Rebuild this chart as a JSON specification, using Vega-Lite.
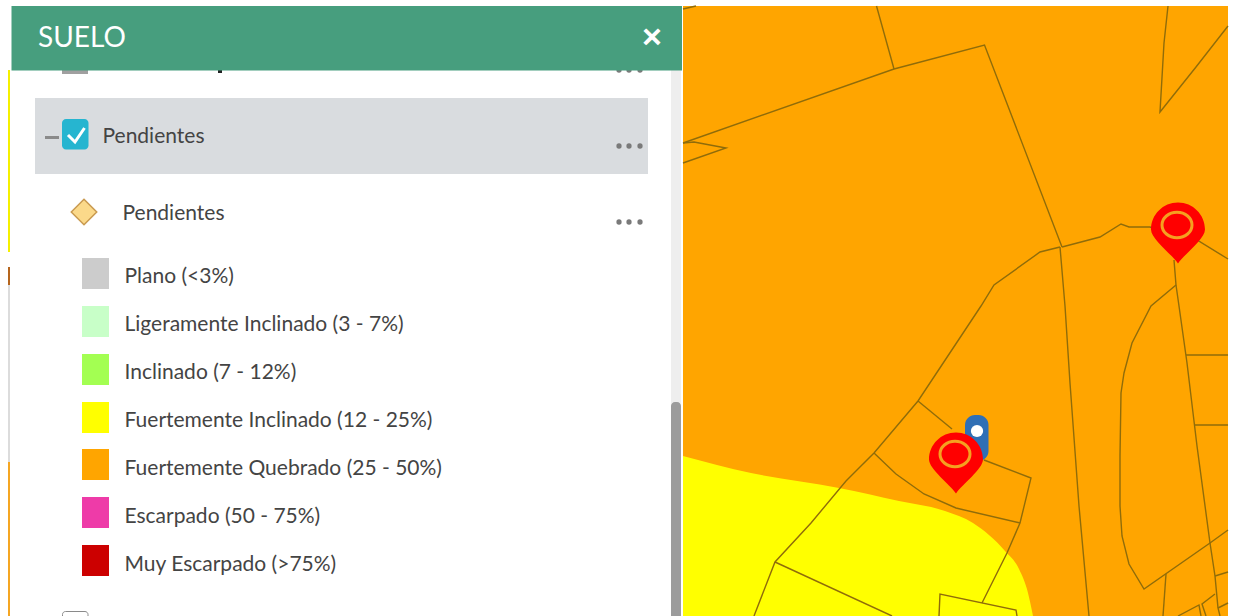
{
"$schema":"https://vega.github.io/schema/vega-lite/v6.json",
"width":1235,"height":616,"padding":0,
"autosize":{"type":"fit","contains":"padding"},
"background":"#ffffff",
"view":{"stroke":null},
"config":{"style":{"cell":{"stroke":null}}},
"encoding":{
 "x":{"field":"x","type":"quantitative","axis":null,"scale":{"domain":[0,1235],"nice":false,"zero":false}},
 "y":{"field":"y","type":"quantitative","axis":null,"scale":{"domain":[0,616],"reverse":true,"nice":false,"zero":false}},
 "color":{"field":"part","type":"nominal","legend":null,"scale":{
  "domain":["strip yellow","strip brown","strip grey","strip orange","track","thumb","selected row","cropped box","cropped glyph","Plano","Ligeramente Inclinado","Inclinado","Fuertemente Inclinado","Fuertemente Quebrado","Escarpado","Muy Escarpado","boundary","menu dots","checkbox","check","minus","blue pin","white dot","red pin","ring","diamond","header","white text","label","box line"],
  "range":["#f5f000","#b5651d","#dcdcdc","#f5a623","#eeeeee","#9c9c9c","#d9dcdf","#a0a0a0","#222222","#cccccc","#c8ffc8","#a3ff52","#ffff00","#ffa500","#ee3ba8","#cc0000","#8f6c0a","#7a7a7a","#26b5d0","#ffffff","#8a8a8a","#2f6fb5","#ffffff","#ff0000","#f5a020","#fbd98a","#479e7e","#ffffff","#444444","#8a8a8a"]}}
},
"layer":[
{"mark":{"type":"rect"},
 "encoding":{"x2":{"field":"x2"},"y2":{"field":"y2"}},
 "data":{"values":[
 {"part":"strip yellow","x":8,"x2":10,"y":70,"y2":252},
 {"part":"strip brown","x":8,"x2":10,"y":267,"y2":285},
 {"part":"strip grey","x":8,"x2":10,"y":285,"y2":462},
 {"part":"strip orange","x":8,"x2":10,"y":462,"y2":616},
 {"part":"track","x":671,"x2":681,"y":70,"y2":616},
 {"part":"selected row","x":35,"x2":648,"y":98,"y2":174},
 {"part":"cropped box","x":62,"x2":88,"y":70,"y2":74},
 {"part":"cropped glyph","x":218,"x2":222,"y":70,"y2":73},
 {"part":"minus","x":45,"x2":59,"y":136,"y2":139},
 {"part":"Plano","x":82,"x2":109,"y":258,"y2":289},
 {"part":"Ligeramente Inclinado","x":82,"x2":109,"y":306,"y2":337},
 {"part":"Inclinado","x":82,"x2":109,"y":354,"y2":385},
 {"part":"Fuertemente Inclinado","x":82,"x2":109,"y":402,"y2":433},
 {"part":"Fuertemente Quebrado","x":82,"x2":109,"y":449,"y2":480},
 {"part":"Escarpado","x":82,"x2":109,"y":497,"y2":528},
 {"part":"Muy Escarpado","x":82,"x2":109,"y":545,"y2":576},
 {"part":"Fuertemente Quebrado","x":683,"x2":1228,"y":6,"y2":616}
 ]}},
{"mark":{"type":"rect","cornerRadius":4,"clip":true},
 "encoding":{"x2":{"field":"x2"},"y2":{"field":"y2"}},
 "data":{"values":[
 {"part":"thumb","x":671,"x2":681,"y":402,"y2":630}
 ]}},
{"mark":{"type":"area","line":false,"interpolate":"monotone"},
 "encoding":{"y2":{"datum":616}},
 "data":{"values":[
 {"part":"Fuertemente Inclinado","x":683,"y":456},
 {"part":"Fuertemente Inclinado","x":751,"y":473},
 {"part":"Fuertemente Inclinado","x":839,"y":488},
 {"part":"Fuertemente Inclinado","x":899,"y":501},
 {"part":"Fuertemente Inclinado","x":945,"y":511},
 {"part":"Fuertemente Inclinado","x":973,"y":523},
 {"part":"Fuertemente Inclinado","x":1005,"y":551},
 {"part":"Fuertemente Inclinado","x":1019,"y":569},
 {"part":"Fuertemente Inclinado","x":1028,"y":593},
 {"part":"Fuertemente Inclinado","x":1033,"y":616}
 ]}},
{"mark":{"type":"line","strokeWidth":1.4,"clip":true},
 "encoding":{"detail":{"field":"seg"},"order":{"field":"i"}},
 "data":{"values":[
 {"part":"boundary","seg":1,"i":0,"x":876.5,"y":6},{"part":"boundary","seg":1,"i":1,"x":894,"y":69},
 {"part":"boundary","seg":2,"i":0,"x":683,"y":143},{"part":"boundary","seg":2,"i":1,"x":894,"y":69},{"part":"boundary","seg":2,"i":2,"x":984.5,"y":45},{"part":"boundary","seg":2,"i":3,"x":1062,"y":247},
 {"part":"boundary","seg":3,"i":0,"x":683,"y":143},{"part":"boundary","seg":3,"i":1,"x":694,"y":142},{"part":"boundary","seg":3,"i":2,"x":726,"y":148},{"part":"boundary","seg":3,"i":3,"x":683,"y":163},
 {"part":"boundary","seg":4,"i":0,"x":683,"y":9},{"part":"boundary","seg":4,"i":1,"x":696,"y":6},
 {"part":"boundary","seg":5,"i":0,"x":1168,"y":6},{"part":"boundary","seg":5,"i":1,"x":1164,"y":43},{"part":"boundary","seg":5,"i":2,"x":1160,"y":112},{"part":"boundary","seg":5,"i":3,"x":1196,"y":67},{"part":"boundary","seg":5,"i":4,"x":1228,"y":26},
 {"part":"boundary","seg":6,"i":0,"x":1062,"y":247},{"part":"boundary","seg":6,"i":1,"x":1100,"y":237},{"part":"boundary","seg":6,"i":2,"x":1121,"y":224},{"part":"boundary","seg":6,"i":3,"x":1129,"y":227},{"part":"boundary","seg":6,"i":4,"x":1150,"y":227},{"part":"boundary","seg":6,"i":5,"x":1171,"y":235},{"part":"boundary","seg":6,"i":6,"x":1197,"y":240},{"part":"boundary","seg":6,"i":7,"x":1228,"y":259},
 {"part":"boundary","seg":7,"i":0,"x":1060,"y":247},{"part":"boundary","seg":7,"i":1,"x":1040,"y":252},{"part":"boundary","seg":7,"i":2,"x":994,"y":285},{"part":"boundary","seg":7,"i":3,"x":981,"y":306},{"part":"boundary","seg":7,"i":4,"x":918,"y":401},{"part":"boundary","seg":7,"i":5,"x":874,"y":453},{"part":"boundary","seg":7,"i":6,"x":846,"y":481},{"part":"boundary","seg":7,"i":7,"x":811,"y":523},{"part":"boundary","seg":7,"i":8,"x":775,"y":562},{"part":"boundary","seg":7,"i":9,"x":754,"y":616},
 {"part":"boundary","seg":8,"i":0,"x":1060,"y":247},{"part":"boundary","seg":8,"i":1,"x":1065,"y":306},{"part":"boundary","seg":8,"i":2,"x":1070,"y":383},{"part":"boundary","seg":8,"i":3,"x":1079,"y":506},{"part":"boundary","seg":8,"i":4,"x":1089,"y":616},
 {"part":"boundary","seg":9,"i":0,"x":1174,"y":260},{"part":"boundary","seg":9,"i":1,"x":1176,"y":285},{"part":"boundary","seg":9,"i":2,"x":1179,"y":306},{"part":"boundary","seg":9,"i":3,"x":1187,"y":363},{"part":"boundary","seg":9,"i":4,"x":1197,"y":446},{"part":"boundary","seg":9,"i":5,"x":1210,"y":543},{"part":"boundary","seg":9,"i":6,"x":1215,"y":576},{"part":"boundary","seg":9,"i":7,"x":1218,"y":608},{"part":"boundary","seg":9,"i":8,"x":1220,"y":616},
 {"part":"boundary","seg":10,"i":0,"x":1176,"y":285},{"part":"boundary","seg":10,"i":1,"x":1151,"y":306},{"part":"boundary","seg":10,"i":2,"x":1132,"y":343},{"part":"boundary","seg":10,"i":3,"x":1124,"y":373},{"part":"boundary","seg":10,"i":4,"x":1121,"y":393},{"part":"boundary","seg":10,"i":5,"x":1120,"y":456},{"part":"boundary","seg":10,"i":6,"x":1120,"y":506},{"part":"boundary","seg":10,"i":7,"x":1122,"y":536},{"part":"boundary","seg":10,"i":8,"x":1129,"y":564},{"part":"boundary","seg":10,"i":9,"x":1144,"y":589},{"part":"boundary","seg":10,"i":10,"x":1210,"y":543},{"part":"boundary","seg":10,"i":11,"x":1228,"y":530},
 {"part":"boundary","seg":11,"i":0,"x":918,"y":401},{"part":"boundary","seg":11,"i":1,"x":952,"y":429},
 {"part":"boundary","seg":12,"i":0,"x":984,"y":460},{"part":"boundary","seg":12,"i":1,"x":1031,"y":478},{"part":"boundary","seg":12,"i":2,"x":1020,"y":523},{"part":"boundary","seg":12,"i":3,"x":1007,"y":553},{"part":"boundary","seg":12,"i":4,"x":982,"y":603},
 {"part":"boundary","seg":13,"i":0,"x":874,"y":453},{"part":"boundary","seg":13,"i":1,"x":896,"y":474},{"part":"boundary","seg":13,"i":2,"x":924,"y":494},{"part":"boundary","seg":13,"i":3,"x":956,"y":508},{"part":"boundary","seg":13,"i":4,"x":1020,"y":523},
 {"part":"boundary","seg":14,"i":0,"x":775,"y":562},{"part":"boundary","seg":14,"i":1,"x":892,"y":616},
 {"part":"boundary","seg":15,"i":0,"x":939,"y":616},{"part":"boundary","seg":15,"i":1,"x":940,"y":594},{"part":"boundary","seg":15,"i":2,"x":1016,"y":610},{"part":"boundary","seg":15,"i":3,"x":1017,"y":616},
 {"part":"boundary","seg":16,"i":0,"x":1186,"y":355},{"part":"boundary","seg":16,"i":1,"x":1228,"y":355},
 {"part":"boundary","seg":17,"i":0,"x":1195,"y":425},{"part":"boundary","seg":17,"i":1,"x":1228,"y":425},
 {"part":"boundary","seg":18,"i":0,"x":1166,"y":574},{"part":"boundary","seg":18,"i":1,"x":1163,"y":616},
 {"part":"boundary","seg":19,"i":0,"x":1215,"y":576},{"part":"boundary","seg":19,"i":1,"x":1228,"y":572},
 {"part":"boundary","seg":20,"i":0,"x":1178,"y":616},{"part":"boundary","seg":20,"i":1,"x":1199,"y":605},{"part":"boundary","seg":20,"i":2,"x":1201,"y":616},
 {"part":"boundary","seg":21,"i":0,"x":1206,"y":616},{"part":"boundary","seg":21,"i":1,"x":1202,"y":604},{"part":"boundary","seg":21,"i":2,"x":1215,"y":594},
 {"part":"boundary","seg":22,"i":0,"x":1218,"y":608},{"part":"boundary","seg":22,"i":1,"x":1228,"y":603}
 ]}},
{"mark":{"type":"rect","cornerRadius":4},
 "encoding":{"x2":{"field":"x2"},"y2":{"field":"y2"}},
 "data":{"values":[{"part":"checkbox","x":62,"x2":88.5,"y":119,"y2":149.5}]}},
{"mark":{"type":"rect","cornerRadius":10},
 "encoding":{"x2":{"field":"x2"},"y2":{"field":"y2"}},
 "data":{"values":[{"part":"blue pin","x":965,"x2":988.5,"y":415,"y2":461}]}},
{"mark":{"type":"rect","filled":false,"cornerRadius":3,"strokeWidth":1,"clip":true},
 "encoding":{"x2":{"field":"x2"},"y2":{"field":"y2"}},
 "data":{"values":[{"part":"box line","x":62.5,"x2":88,"y":611.5,"y2":630}]}},
{"mark":{"type":"line","strokeWidth":3},
 "encoding":{"order":{"field":"i"}},
 "data":{"values":[{"part":"check","i":0,"x":68,"y":135},{"part":"check","i":1,"x":75,"y":142},{"part":"check","i":2,"x":84.5,"y":128}]}},
{"mark":{"type":"point","shape":"circle","filled":true,"opacity":1,"size":28},
 "data":{"values":[
 {"part":"menu dots","x":619,"y":146},{"part":"menu dots","x":629,"y":146},{"part":"menu dots","x":640,"y":146},
 {"part":"menu dots","x":619,"y":222},{"part":"menu dots","x":629,"y":222},{"part":"menu dots","x":640,"y":222},
 {"part":"menu dots","x":619,"y":70},{"part":"menu dots","x":629,"y":70},{"part":"menu dots","x":640,"y":70}
 ]}},
{"mark":{"type":"point","shape":"circle","filled":true,"opacity":1,"size":150},
 "data":{"values":[{"part":"white dot","x":977,"y":431}]}},
{"mark":{"type":"point","filled":true,"opacity":1,"size":3721,"shape":"M0,1C-.2,.7,-.885,.2,-.885,-.115A.885,.885,0,1,1,.885,-.115C.885,.2,.2,.7,0,1Z"},
 "data":{"values":[{"part":"red pin","x":1178,"y":233},{"part":"red pin","x":956,"y":463}]}},
{"mark":{"type":"point","filled":false,"opacity":1,"size":900,"strokeWidth":3,"shape":"M-1,0A1,.85,0,1,1,1,0A1,.85,0,1,1,-1,0Z"},
 "data":{"values":[{"part":"ring","x":1177,"y":225},{"part":"ring","x":955,"y":454}]}},
{"mark":{"type":"point","shape":"diamond","filled":true,"opacity":1,"size":650,"stroke":"#c99a50","strokeWidth":1.5},
 "data":{"values":[{"part":"diamond","x":84,"y":212}]}},
{"mark":{"type":"rect"},
 "encoding":{"x2":{"field":"x2"},"y2":{"field":"y2"}},
 "data":{"values":[{"part":"header","x":11.5,"x2":682,"y":6,"y2":70.5}]}},
{"mark":{"type":"text","align":"left","baseline":"middle","font":"Lato","fontSize":28},
 "encoding":{"text":{"field":"t"}},
 "data":{"values":[{"part":"white text","x":38,"y":39,"t":"SUELO"}]}},
{"mark":{"type":"text","align":"center","baseline":"middle","font":"Liberation Sans","fontSize":34,"fontWeight":"bold"},
 "encoding":{"text":{"field":"t"}},
 "data":{"values":[{"part":"white text","x":652,"y":38,"t":"×"}]}},
{"mark":{"type":"text","align":"left","baseline":"middle","font":"Lato","fontSize":21},
 "encoding":{"text":{"field":"t"}},
 "data":{"values":[
 {"part":"label","x":102.5,"y":137,"t":"Pendientes"},
 {"part":"label","x":122.5,"y":213.5,"t":"Pendientes"},
 {"part":"label","x":124.5,"y":276.5,"t":"Plano (<3%)"},
 {"part":"label","x":124.5,"y":324.5,"t":"Ligeramente Inclinado (3 - 7%)"},
 {"part":"label","x":124.5,"y":372.5,"t":"Inclinado (7 - 12%)"},
 {"part":"label","x":124.5,"y":420.5,"t":"Fuertemente Inclinado (12 - 25%)"},
 {"part":"label","x":124.5,"y":468.5,"t":"Fuertemente Quebrado (25 - 50%)"},
 {"part":"label","x":124.5,"y":516.5,"t":"Escarpado (50 - 75%)"},
 {"part":"label","x":124.5,"y":564.5,"t":"Muy Escarpado (>75%)"}
 ]}}
]
}
